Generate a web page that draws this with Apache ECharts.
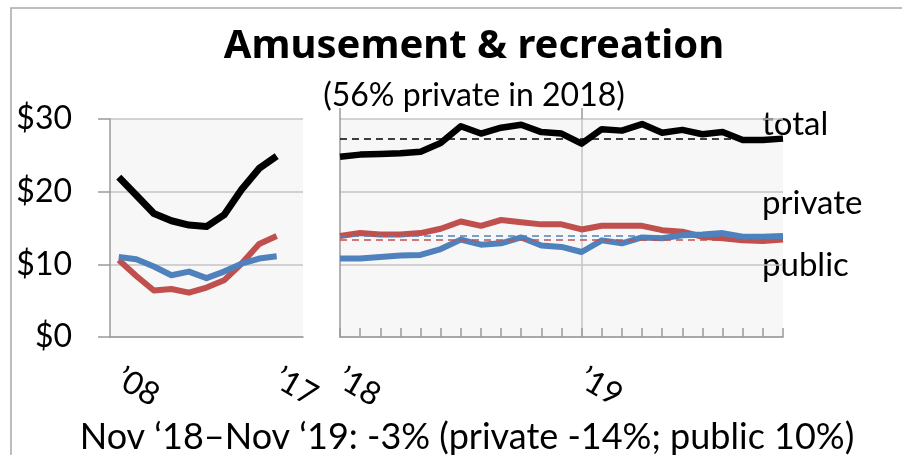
<!DOCTYPE html>
<html>
<head>
<meta charset="utf-8">
<script src="https://cdn.jsdelivr.net/npm/echarts@6/dist/echarts.min.js"></script>
<style>
  html, body { margin: 0; padding: 0; background: #fff; }
  #main { width: 902px; height: 455px; }
</style>
</head>
<body>
<div id="main"></div>
<script>
// annual panel, '08 - '17 (last slot left empty as in the original)
var years = ['’08', '’09', '’10', '’11', '’12', '’13', '’14', '’15', '’16', '’17', '']
var totalYear = [22.0, 19.5, 17.0, 16.0, 15.4, 15.2, 16.8, 20.3, 23.2, 24.9]
var privateYear = [10.6, 8.4, 6.4, 6.6, 6.1, 6.8, 7.8, 10.1, 12.8, 13.9]
var publicYear = [11.0, 10.7, 9.7, 8.5, 9.0, 8.1, 9.0, 10.1, 10.8, 11.1]

// monthly panel, Jan '18 - Nov '19
var months = ['’18', 'Feb', 'Mar', 'Apr', 'May', 'Jun', 'Jul', 'Aug', 'Sep', 'Oct', 'Nov', 'Dec',
  '’19', 'Feb', 'Mar', 'Apr', 'May', 'Jun', 'Jul', 'Aug', 'Sep', 'Oct', 'Nov']
var totalMonth = [24.8, 25.1, 25.2, 25.3, 25.5, 26.7, 29.0, 28.0, 28.8, 29.2, 28.2, 28.0,
  26.6, 28.6, 28.4, 29.3, 28.1, 28.5, 27.9, 28.2, 27.1, 27.1, 27.3]
var privateMonth = [13.9, 14.3, 14.1, 14.1, 14.3, 14.9, 15.9, 15.3, 16.1, 15.8, 15.5, 15.5,
  14.8, 15.3, 15.3, 15.3, 14.7, 14.5, 13.8, 13.6, 13.3, 13.2, 13.4]
var publicMonth = [10.8, 10.8, 11.0, 11.2, 11.3, 12.1, 13.4, 12.7, 12.9, 13.7, 12.6, 12.4,
  11.7, 13.3, 12.9, 13.7, 13.6, 14.0, 14.1, 14.3, 13.8, 13.8, 13.9]

var yTicks = [0, 10, 20, 30]

var FONT = 'Lato'
var AXIS = '#9a9a9a'
var GRID = '#c4c4c4'
var RED = '#C0504D'
var BLUE = '#4F81BD'

var myChart = echarts.init(document.getElementById('main'))

function last (arr) {
  return arr[arr.length - 1]
}

// dashed line at the latest value
function latestLine (arr, color) {
  return {
    silent: true,
    symbol: 'none',
    label: { show: false },
    lineStyle: { color: color, type: [7, 5], width: 1.5 },
    data: [{ yAxis: last(arr) }]
  }
}

function line (name, xi, data, color, width, mark) {
  var s = {
    name: name,
    type: 'line',
    xAxisIndex: xi,
    yAxisIndex: xi,
    data: data,
    symbol: 'none',
    lineStyle: { color: color, width: width, join: 'round' },
    z: 3
  }
  if (mark) s.markLine = mark
  return s
}

var yBase = {
  type: 'value',
  min: yTicks[0],
  max: yTicks[yTicks.length - 1],
  interval: 10,
  axisLine: { show: true, lineStyle: { color: AXIS, width: 1.5 } },
  splitLine: { lineStyle: { color: GRID, width: 1.5 } }
}

var xLabel = {
  rotate: -30,
  margin: 39,
  fontSize: 32,
  color: '#000',
  fontFamily: FONT
}

myChart.setOption({
  animation: false,
  textStyle: { fontFamily: FONT },
  title: [
    {
      text: 'Amusement & recreation',
      left: 469,
      top: 22,
      textAlign: 'center',
      textStyle: { fontFamily: 'Noto Sans', fontWeight: 'bold', fontSize: 40, color: '#000' }
    },
    {
      text: '(56% private in 2018)',
      left: 469,
      top: 75,
      textAlign: 'center',
      textStyle: { fontFamily: FONT, fontWeight: 'normal', fontSize: 32, color: '#000' }
    },
    {
      text: 'Nov ‘18–Nov ‘19: -3% (private -14%; public 10%)',
      left: 462,
      top: 414,
      textAlign: 'center',
      textStyle: { fontFamily: FONT, fontWeight: 'normal', fontSize: 36, color: '#000' }
    }
  ],
  graphic: [
    {
      type: 'rect',
      shape: { x: 11, y: 8, width: 1000, height: 600 },
      style: { fill: 'none', stroke: '#a8a8a8', lineWidth: 1.5 },
      silent: true
    },
    { type: 'text', left: 762, top: 108, style: { text: 'total', font: '33px Lato', fill: '#000' } },
    { type: 'text', left: 762, top: 187, style: { text: 'private', font: '33px Lato', fill: '#000' } },
    { type: 'text', left: 762, top: 249, style: { text: 'public', font: '33px Lato', fill: '#000' } }
  ],
  grid: [
    { left: 110, top: 119, width: 193, height: 218, show: true, backgroundColor: '#f7f7f7', borderWidth: 0 },
    { left: 340, top: 119, width: 443, height: 218, show: true, backgroundColor: '#f7f7f7', borderWidth: 0 }
  ],
  xAxis: [
    {
      type: 'category',
      gridIndex: 0,
      data: years,
      boundaryGap: true,
      axisLine: { lineStyle: { color: AXIS, width: 1.5 } },
      axisTick: { inside: true, length: 9, lineStyle: { color: AXIS, width: 1.5 } },
      axisLabel: Object.assign({}, xLabel, {
        interval: function (i) { return i === 0 || i === 9 }
      }),
      splitLine: { show: false }
    },
    {
      type: 'category',
      gridIndex: 1,
      data: months,
      boundaryGap: false,
      axisLine: { lineStyle: { color: AXIS, width: 1.5 } },
      axisTick: { inside: true, length: 9, interval: 0, lineStyle: { color: AXIS, width: 1.5 } },
      axisLabel: Object.assign({}, xLabel, {
        interval: function (i) { return i === 0 || i === 12 }
      }),
      splitLine: {
        show: true,
        interval: function (i) { return i === 12 },
        lineStyle: { color: GRID, width: 1.5 }
      }
    },
    {
      // major ticks below the axis at each January
      type: 'category',
      gridIndex: 1,
      data: months,
      boundaryGap: false,
      axisLine: { show: false },
      axisTick: {
        inside: false,
        length: 11,
        interval: function (i) { return i === 0 || i === 12 },
        lineStyle: { color: AXIS, width: 1.5 }
      },
      axisLabel: { show: false },
      splitLine: { show: false }
    }
  ],
  yAxis: [
    Object.assign({}, yBase, {
      gridIndex: 0,
      axisTick: { show: true, inside: false, length: 12, lineStyle: { color: AXIS, width: 1.5 } },
      axisLabel: {
        margin: 38,
        fontSize: 32,
        color: '#000',
        fontFamily: FONT,
        formatter: function (v) { return '$' + v }
      }
    }),
    Object.assign({}, yBase, {
      gridIndex: 1,
      axisTick: { show: false },
      axisLabel: { show: false }
    })
  ],
  series: [
    line('total', 0, totalYear, '#000', 7),
    line('private', 0, privateYear, RED, 6),
    line('public', 0, publicYear, BLUE, 6),
    line('total', 1, totalMonth, '#000', 6.5, latestLine(totalMonth, '#000')),
    line('private', 1, privateMonth, RED, 6, latestLine(privateMonth, RED)),
    line('public', 1, publicMonth, BLUE, 6, latestLine(publicMonth, BLUE))
  ]
})
</script>
</body>
</html>
